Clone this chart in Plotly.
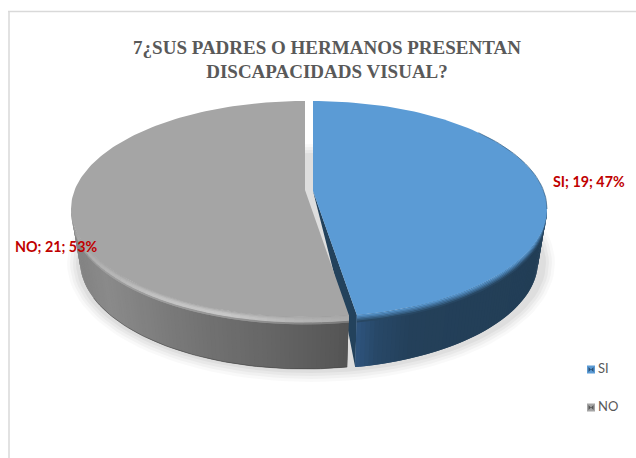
import numpy as np
import plotly.graph_objects as go

categories = ["SI", "NO"]
counts = [19, 21]
percents = [47, 53]
title_text = "7¿SUS PADRES O HERMANOS PRESENTAN<br>DISCAPACIDADS VISUAL?"

TOP_BLUE = (91, 155, 213)
TOP_GRAY = (165, 165, 165)
CY, A, B = 209, 234, 108
LOW_CY, LOW_A, LOW_B = 261, 225, 108
CX = {"SI": 313, "NO": 305}
APEX_Y = 191
BAND = 1.4


def css(c):
    return "rgb(%d,%d,%d)" % tuple(int(round(v)) for v in c)


def mix(stops, t):
    xs = [s[0] for s in stops]
    return tuple(float(np.interp(t, xs, [s[1][i] for s in stops])) for i in range(3))


def rim(cx, deg):
    th = np.radians(deg)
    return cx + A * np.sin(th), CY - B * np.cos(th)


def low(cx, deg):
    th = np.radians(deg)
    return cx + LOW_A * np.sin(th), LOW_CY - LOW_B * np.cos(th)


def taper(deg):
    return np.minimum(1.0, np.abs(np.cos(np.radians(deg))) * 4)


fig = go.Figure()


def poly(xs, ys, color, opacity=1.0):
    fig.add_trace(go.Scatter(x=list(xs), y=list(ys), mode="lines", fill="toself",
                             fillcolor=color, line=dict(width=0),
                             opacity=opacity, hoverinfo="skip", showlegend=False))


def stroke(xs, ys, color, width, opacity):
    fig.add_trace(go.Scatter(x=list(xs), y=list(ys), mode="lines",
                             line=dict(color=color, width=width),
                             opacity=opacity, hoverinfo="skip", showlegend=False))


split = percents[0] / sum(percents) * 360

# soft drop shadow
t = np.radians(np.linspace(0, 360, 121))
for grow, op in [(11, 0.025), (8, 0.03), (5, 0.035), (2, 0.04)]:
    poly(311 + (LOW_A + 8 + grow) * np.sin(t), LOW_CY + 2 + (LOW_B + grow) * -np.cos(t), "#000000", op)

# blue cut face
ax, ay = CX["SI"], APEX_Y
rx, ry = rim(CX["SI"], split)
lx, ly = low(CX["SI"], split)
poly([ax, rx, lx, ax + 0.765 * (rx - ax)], [ay, ry, ly, ay + 0.765 * (ry - ay) + 37], "#23425c")

# blue outer wall
blue_stops = [(0, (47, 86, 128)), (0.12, (40, 72, 104)), (0.3, (36, 64, 90)), (1, (34, 62, 86))]
ang = np.linspace(90, split, 70)
for i in range(len(ang) - 1):
    a0, a1 = ang[i], ang[min(i + 2, len(ang) - 1)]
    x0, y0 = rim(CX["SI"], a0)
    x1, y1 = rim(CX["SI"], a1)
    x2, y2 = low(CX["SI"], a1)
    x3, y3 = low(CX["SI"], a0)
    poly([x0, x1, x2, x3], [y0, y1, y2, y3], css(mix(blue_stops, (x0 - 357) / 190)))

# gray outer wall
gray_stops = [(0, (130, 130, 130)), (0.12, (138, 138, 138)), (0.45, (115, 115, 115)),
              (0.75, (100, 100, 100)), (1, (84, 84, 84))]
ang = np.linspace(270, split, 90)
for i in range(len(ang) - 1):
    a0, a1 = ang[i], ang[min(i + 2, len(ang) - 1)]
    x0, y0 = rim(CX["NO"], a0)
    x1, y1 = rim(CX["NO"], a1)
    x2, y2 = low(CX["NO"], a1)
    x3, y3 = low(CX["NO"], a0)
    poly([x0, x1, x2, x3], [y0, y1, y2, y3], css(mix(gray_stops, (x0 - 70) / 276)))

# darker lower edge of the gray wall
t = np.linspace(split, 250, 60)
lowx, lowy = low(CX["NO"], t)
stroke(lowx, lowy, "#3a3a3a", 1, 0.45)

# blue bevel: top colour fading into the wall
t = np.linspace(split, 90, 70)
xb, yb = rim(CX["SI"], t)
tp = taper(t)
wall_blue = (34, 62, 86)
for k in range(5):
    col = mix([(0, TOP_BLUE), (1, wall_blue)], (k + 0.5) / 5)
    poly(np.r_[xb, xb[::-1]], np.r_[yb + k * BAND * tp, (yb + (k + 1.3) * BAND * tp)[::-1]], css(col))

# gray bevel: highlight that runs along the rim
peak_stops = [(0, (168, 168, 168)), (0.12, (180, 180, 180)), (0.3, (194, 194, 194)),
              (0.55, (200, 200, 200)), (0.8, (182, 182, 182)), (1, (170, 170, 170))]
ang = np.linspace(270, split, 46)
for i in range(len(ang) - 1):
    seg = np.array([ang[i], ang[min(i + 2, len(ang) - 1)]])
    x, y = rim(CX["NO"], seg)
    tp = taper(seg)
    peak = mix(peak_stops, (x[0] - 70) / 276)
    wall = mix(gray_stops, (x[0] - 70) / 276)
    band_cols = [mix([(0, TOP_GRAY), (1, peak)], 0.35), mix([(0, TOP_GRAY), (1, peak)], 0.75),
                 peak, peak, mix([(0, peak), (1, wall)], 0.55)]
    for k, col in enumerate(band_cols):
        poly(np.r_[x, x[::-1]], np.r_[y + k * BAND * tp, (y + (k + 1.3) * BAND * tp)[::-1]], css(col))

# top faces
t = np.linspace(0, split, 120)
xb, yb = rim(CX["SI"], t)
poly(np.r_[ax, xb, ax], np.r_[ay, yb, ay], css(TOP_BLUE))
t = np.linspace(split, 360, 160)
xg, yg = rim(CX["NO"], t)
gx, gy = CX["NO"], APEX_Y - 1
poly(np.r_[gx, xg, gx], np.r_[gy, yg, gy], css(TOP_GRAY))

# thin dark edge on the upper right of the blue slice
t = np.linspace(45, 90, 30)
xe, ye = rim(CX["SI"], t)
stroke(xe, ye, "#2c5578", 1, 0.6)

# data labels
label_xy = {"SI": (553, 183), "NO": (15, 248)}
for c, n, p in zip(categories, counts, percents):
    fig.add_trace(go.Scatter(x=[label_xy[c][0]], y=[label_xy[c][1]], mode="text",
                             text=[f"{c}; {n}; {p}%"], textposition="middle right",
                             textfont=dict(family="Lato", size=14.3, color="#c00000", weight="bold"),
                             hoverinfo="skip", showlegend=False))

# legend
leg = {"SI": (591, 369.5, css(TOP_BLUE), "#2a4f73"), "NO": (591, 407.5, css(TOP_GRAY), "#555555")}
for c in categories:
    mx, my, col, dark = leg[c]
    fig.add_trace(go.Scatter(x=[mx], y=[my], mode="markers", marker=dict(symbol="square", size=8, color=col, line=dict(width=0)),
                             hoverinfo="skip", showlegend=False))
    fig.add_trace(go.Scatter(x=[mx], y=[my], mode="markers", marker=dict(symbol="bowtie", size=5, color=dark, line=dict(width=0)),
                             hoverinfo="skip", showlegend=False))
    fig.add_trace(go.Scatter(x=[598], y=[my], mode="text", name=c, text=[c],
                             textposition="middle right",
                             textfont=dict(family="Lato", size=13, color="#595959"),
                             hoverinfo="skip", showlegend=False))

fig.update_layout(
    width=636, height=458, margin=dict(l=0, r=0, t=0, b=0),
    paper_bgcolor="white", plot_bgcolor="white", showlegend=False,
    xaxis=dict(range=[0, 636], visible=False, fixedrange=True),
    yaxis=dict(range=[458, 0], visible=False, fixedrange=True),
    title=dict(text=title_text, x=327 / 636, y=1 - 53.5 / 458, xanchor="center", yanchor="middle",
               font=dict(family="Liberation Serif", size=19, color="#595959", weight="bold")),
    shapes=[dict(type="line", x0=8, y0=11.5, x1=636, y1=11.5, line=dict(color="#d9d9d9", width=1.5), layer="below"),
            dict(type="line", x0=9, y0=11, x1=9, y1=458, line=dict(color="#d9d9d9", width=1.5), layer="below")],
)
fig.write_html("out.html", config={"displayModeBar": False}, post_script="document.body.style.margin='0';")
